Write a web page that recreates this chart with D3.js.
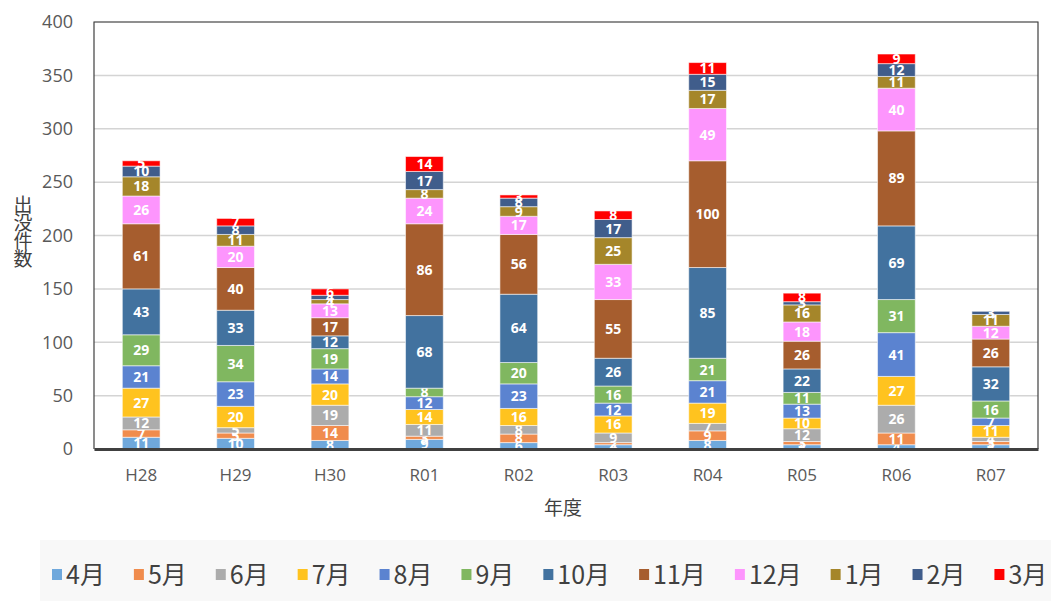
<!DOCTYPE html>
<html>
  <head>
    <meta charset="utf-8">
    <script src="https://cdn.jsdelivr.net/npm/d3@7"></script>
    <style>
      body { margin: 0; background: #fff; }
      text { font-family: "Noto Sans CJK JP", "Noto Sans", sans-serif; }
    </style>
  </head>
  <body>
    <script>

    // Years (fiscal) and months in stacking order
    var years = ["H28", "H29", "H30", "R01", "R02", "R03", "R04", "R05", "R06", "R07"];
    var months = ["4月", "5月", "6月", "7月", "8月", "9月", "10月", "11月", "12月", "1月", "2月", "3月"];
    var colors = ["#6fa8dc", "#f08c4d", "#acacac", "#ffc31f", "#5b83d0", "#80b760",
      "#42729f", "#a65d2e", "#fd95fd", "#a5862a", "#405d8b", "#ff0000"];

    // Counts per month, one array per month, ordered like years
    var apr = [11, 10, 8, 9, 6, 4, 8, 4, 4, 4];
    var may = [7, 5, 14, 3, 8, 2, 9, 3, 11, 3];
    var jun = [12, 5, 19, 11, 8, 9, 7, 12, 26, 4];
    var jul = [27, 20, 20, 14, 16, 16, 19, 10, 27, 11];
    var aug = [21, 23, 14, 12, 23, 12, 21, 13, 41, 7];
    var sep = [29, 34, 19, 8, 20, 16, 21, 11, 31, 16];
    var oct = [43, 33, 12, 68, 64, 26, 85, 22, 69, 32];
    var nov = [61, 40, 17, 86, 56, 55, 100, 26, 89, 26];
    var dec = [26, 20, 13, 24, 17, 33, 49, 18, 40, 12];
    var jan = [18, 11, 4, 8, 9, 25, 17, 16, 11, 11];
    var feb = [10, 8, 4, 17, 8, 17, 15, 3, 12, 3];
    var mar = [5, 7, 6, 14, 3, 8, 11, 8, 9, 0];
    var yTicks = [0, 50, 100, 150, 200, 250, 300, 350, 400];

    var series = [apr, may, jun, jul, aug, sep, oct, nov, dec, jan, feb, mar];

    // Build rows for d3.stack
    var rows = years.map(function(y, i) {
      var row = {year: y};
      months.forEach(function(m, j) { row[m] = series[j][i]; });
      return row;
    });
    var stacked = d3.stack().keys(months)(rows);

    var width = 1051, height = 601;
    var margin = {top: 22, right: 13, bottom: 152, left: 94};
    var w = width - margin.left - margin.right;
    var h = height - margin.top - margin.bottom;

    var svg = d3.select("body").append("svg")
      .attr("width", width)
      .attr("height", height);

    var g = svg.append("g")
      .attr("transform", "translate(" + margin.left + "," + margin.top + ")");

    var x = d3.scaleBand().domain(years).range([0, w]).paddingInner(0.6).paddingOuter(0.3);
    var y = d3.scaleLinear().domain([0, 400]).range([h, 0]);

    // Gridlines
    g.append("g")
      .selectAll("line")
      .data(yTicks)
      .enter().append("line")
        .attr("x1", 0).attr("x2", w)
        .attr("y1", function(d) { return y(d); })
        .attr("y2", function(d) { return y(d); })
        .attr("stroke", "#d4d4d4")
        .attr("stroke-width", 1.5);

    // Plot border (top, left, right)
    g.append("path")
      .attr("d", "M0," + h + "V0H" + w + "V" + h)
      .attr("fill", "none")
      .attr("stroke", "#404040")
      .attr("stroke-width", 1.2);

    // Bars
    var layer = g.selectAll(".layer")
      .data(stacked)
      .enter().append("g")
        .attr("fill", function(d, i) { return colors[i]; });

    layer.selectAll("rect")
      .data(function(d) { return d; })
      .enter().append("rect")
        .attr("x", function(d) { return x(d.data.year); })
        .attr("y", function(d) { return y(d[1]); })
        .attr("width", x.bandwidth())
        .attr("height", function(d) { return y(d[0]) - y(d[1]); })
        .attr("stroke", "rgba(255,255,255,0.55)")
        .attr("stroke-width", 1);

    // Value labels inside every segment with a value
    layer.selectAll("text")
      .data(function(d) { return d.filter(function(s) { return s[1] - s[0] > 0; }); })
      .enter().append("text")
        .attr("x", function(d) { return x(d.data.year) + x.bandwidth() / 2; })
        .attr("y", function(d) { return (y(d[0]) + y(d[1])) / 2; })
        .attr("dy", "0.36em")
        .attr("text-anchor", "middle")
        .attr("fill", "#fff")
        .style("font-family", "'Liberation Sans Narrow', 'Open Sans', sans-serif")
        .style("font-weight", "bold")
        .style("font-size", "14px")
        .text(function(d) { return d[1] - d[0]; });

    // Axes
    var yAxis = d3.axisLeft(y).tickValues(yTicks).tickSize(0).tickPadding(21);
    g.append("g").call(yAxis)
      .call(function(s) { s.select(".domain").remove(); })
      .selectAll("text")
        .attr("fill", "#595959")
        .style("font-size", "18px")
        .style("font-family", "'Open Sans', sans-serif");

    var xAxis = d3.axisBottom(x).tickSize(0).tickPadding(20);
    g.append("g")
      .attr("transform", "translate(0," + h + ")")
      .call(xAxis)
      .call(function(s) { s.select(".domain").attr("stroke", "#404040").attr("stroke-width", 3); })
      .selectAll("text")
        .attr("fill", "#595959")
        .style("font-size", "17px")
        .style("font-family", "'Open Sans', sans-serif");

    // Axis titles
    svg.append("text")
      .attr("x", 563)
      .attr("y", 515)
      .attr("text-anchor", "middle")
      .attr("fill", "#404040")
      .style("font-size", "19px")
      .text("年度");

    var yt = svg.append("text")
      .attr("text-anchor", "middle")
      .attr("fill", "#404040")
      .style("font-size", "19px");
    "出没件数".split("").forEach(function(c, i) {
      yt.append("tspan")
        .attr("x", 23)
        .attr("y", 212 + i * 18)
        .text(c);
    });

    // Legend
    svg.append("rect")
      .attr("x", 40).attr("y", 540)
      .attr("width", 1011).attr("height", 61)
      .attr("fill", "#f8f8f8");

    var legend = svg.append("g");
    var lx = 52;
    months.forEach(function(m, i) {
      legend.append("rect")
        .attr("x", lx).attr("y", 569)
        .attr("width", 10).attr("height", 11)
        .attr("fill", colors[i]);
      var t = legend.append("text")
        .attr("x", lx + 14)
        .attr("y", 584)
        .attr("fill", "#404040")
        .style("font-size", "25px")
        .text(m);
      lx += 14 + t.node().getComputedTextLength() + 29;
    });

    </script>
  </body>
</html>
